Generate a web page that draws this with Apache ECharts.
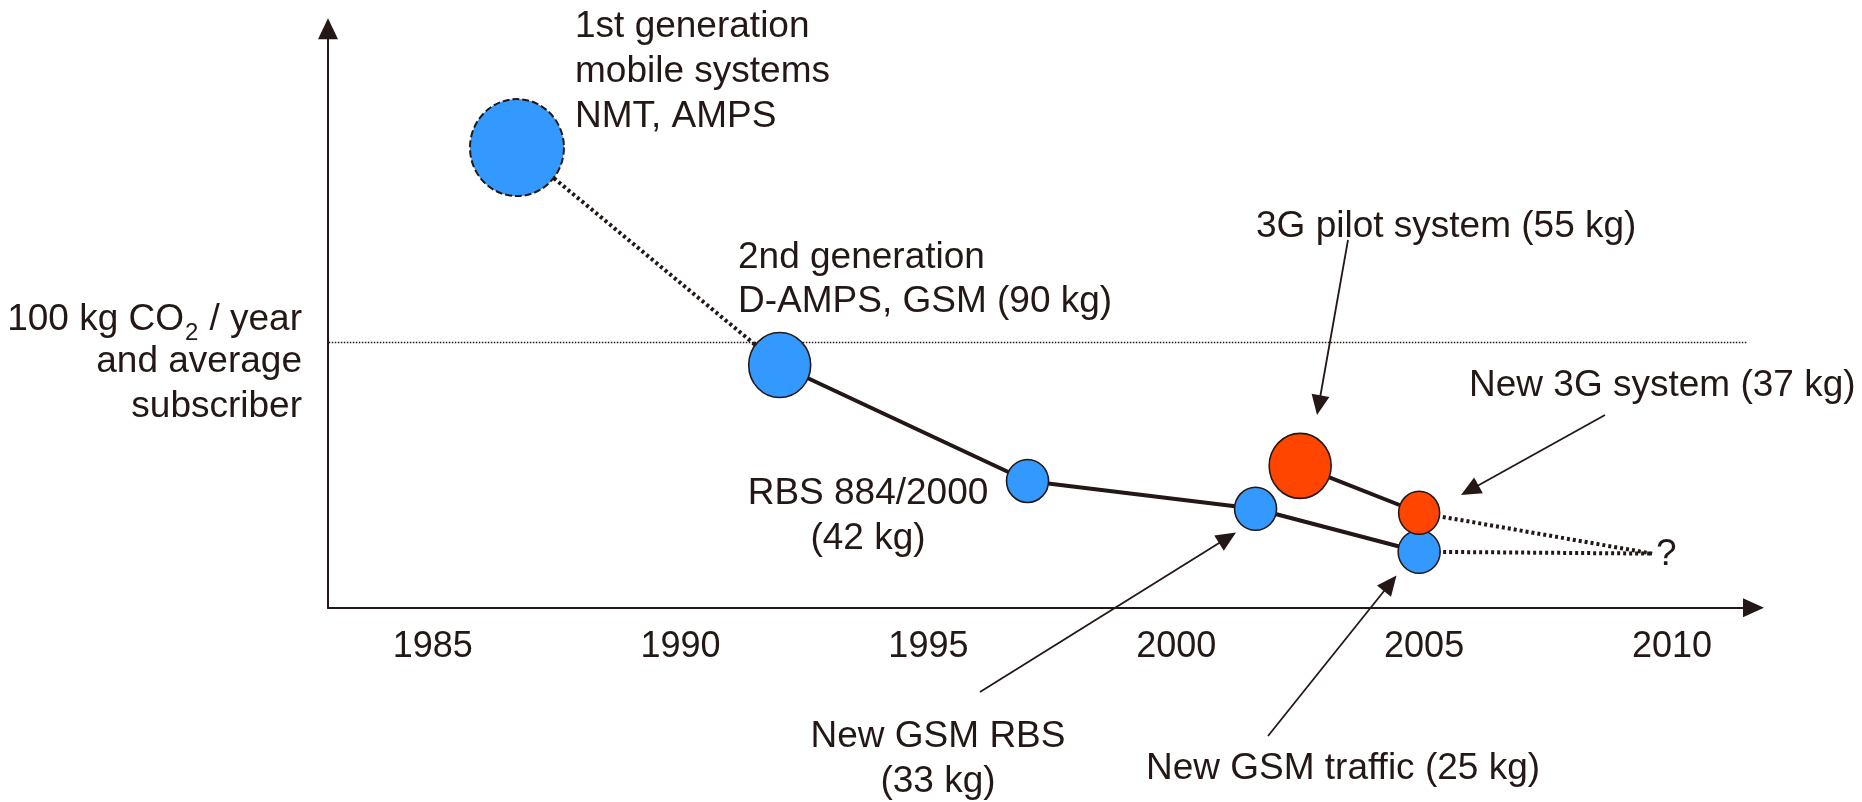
<!DOCTYPE html>
<html>
<head>
<meta charset="utf-8">
<title>CO2 per subscriber and year</title>
<script src="https://cdn.jsdelivr.net/npm/echarts@6/dist/echarts.min.js"></script>
<style>
    html, body { margin: 0; padding: 0; background: #fff; }
    #chart { width: 1862px; height: 802px; }
</style>
</head>
<body>
<div id="chart"></div>
<script>
    // x axis labels
    var yearTicks = [1985, 1990, 1995, 2000, 2005, 2010];

    // GSM / earlier systems (blue)
    var gsmNames = ['1st generation', '2nd generation', 'RBS 884/2000', 'New GSM RBS', 'New GSM traffic'];
    var gsmYear  = [1986.7, 1992.0, 1997.0, 2001.6, 2004.9];
    var gsmKg    = [173.5, 91.5, 47.8, 37.3, 21.1];

    // 3G systems (red)
    var g3Names = ['3G pilot system', 'New 3G system'];
    var g3Year  = [2002.5, 2004.9];
    var g3Kg    = [53.5, 35.8];

    // the "?" outlook point
    var futureYear = [2009.6];
    var futureKg   = [20.4];

    // reference level, kg CO2 / year and subscriber
    var refKg = [100];

    var ink  = '#231815';
    var blue = '#3399ff';
    var red  = '#ff4500';
    var FONT = '"Liberation Sans", Arial, Helvetica, sans-serif';

    // horizontal extent of the dotted reference line (runs a bit left of the y axis)
    var refSpan = [1982.42, 2011.53];

    function pts(xs, ys) {
        return xs.map(function (x, i) {
            return [x, ys[i]];
        });
    }

    var gsmPts   = pts(gsmYear, gsmKg);
    var g3Pts    = pts(g3Year, g3Kg);
    var futurePt = [futureYear[0], futureKg[0]];

    // marker sizes [w, h]
    var gsmSize = [[94, 97], [62, 65], [42, 43], [42, 43], [42, 43]];
    var g3Size  = [[62, 65], [41, 43]];

    var dotted = {color: ink, width: 4, type: [3, 3], cap: 'butt'};
    var solid  = {color: ink, width: 4};

    function label(x, y, text, align, size, lh) {
        return {
            type  : 'text',
            x     : x,
            y     : y,
            silent: true,
            style : {
                text             : text,
                fill             : ink,
                fontSize         : size,
                fontFamily       : FONT,
                align            : align,
                textAlign        : align,
                verticalAlign    : 'middle',
                textVerticalAlign: 'middle',
                lineHeight       : lh || size * 1.2
            }
        };
    }

    function arrow(x1, y1, x2, y2) {
        var dx = x2 - x1, dy = y2 - y1;
        var len = Math.sqrt(dx * dx + dy * dy);
        var ux = dx / len, uy = dy / len;
        var hl = 20, hw = 9;
        var bx = x2 - ux * hl, by = y2 - uy * hl;
        return [
            {
                type  : 'line',
                silent: true,
                shape : {x1: x1, y1: y1, x2: bx + ux * 2, y2: by + uy * 2},
                style : {stroke: ink, lineWidth: 1.8}
            },
            {
                type  : 'polygon',
                silent: true,
                shape : {points: [[x2, y2], [bx - uy * hw, by + ux * hw], [bx + uy * hw, by - ux * hw]]},
                style : {fill: ink}
            }
        ];
    }

    var graphics = [
        label(575, 71.5, '1st generation\nmobile systems\nNMT, AMPS', 'left', 37, 45),
        label(738, 279.7, '2nd generation\nD-AMPS, GSM (90 kg)', 'left', 37, 44.5),
        label(1256, 227, '3G pilot system (55 kg)', 'left', 37),
        label(1469, 386, 'New 3G system (37 kg)', 'left', 37),
        label(868, 516.5, 'RBS 884/2000\n(42 kg)', 'center', 37, 45),
        label(938, 759, 'New GSM RBS\n(33 kg)', 'center', 37, 45),
        label(1343, 769, 'New GSM traffic (25 kg)', 'center', 37),
        label(1656, 554.5, '?', 'left', 37),
        label(184, 320, '100 kg CO', 'right', 37),
        label(185, 333, '2', 'left', 24),
        label(302, 320, '/ year', 'right', 37),
        label(302, 384.5, 'and average\nsubscriber', 'right', 37, 44.5)
    ]
        .concat(arrow(1348, 240, 1317, 415))
        .concat(arrow(1605, 415, 1461, 495))
        .concat(arrow(980, 692, 1236, 532.5))
        .concat(arrow(1268, 736, 1396.5, 575.5));

    var myChart = echarts.init(document.getElementById('chart'));

    var option = {
        animation: false,
        grid     : {
            left           : 328,
            right          : 108.5,
            top            : 28.8,
            bottom         : 194.3,
            containLabel   : false,
            outerBoundsMode: 'none'
        },
        xAxis    : {
            type     : 'value',
            min      : 1982.888,
            max      : 2011.645,
            axisLine : {
                show      : true,
                onZero    : false,
                symbol    : ['none', 'triangle'],
                symbolSize: [19, 21],
                lineStyle : {color: ink, width: 2}
            },
            axisTick : {show: false},
            splitLine: {show: false},
            axisLabel: {
                customValues: yearTicks,
                formatter   : function (v) {
                    return String(v);
                },
                color       : ink,
                fontSize    : 36,
                fontFamily  : FONT,
                margin      : 21
            }
        },
        yAxis    : {
            type     : 'value',
            min      : 0,
            max      : 218.3,
            axisLine : {
                show      : true,
                onZero    : false,
                symbol    : ['none', 'triangle'],
                symbolSize: [20, 21],
                lineStyle : {color: ink, width: 2}
            },
            axisTick : {show: false},
            splitLine: {show: false},
            axisLabel: {show: false}
        },
        graphic  : graphics,
        series   : [
            {
                name     : '100 kg reference',
                type     : 'line',
                silent   : true,
                clip     : false,
                z        : 1,
                symbol   : 'none',
                data     : [[refSpan[0], refKg[0]], [refSpan[1], refKg[0]]],
                lineStyle: {color: ink, width: 1.5, type: [1.5, 1.5], cap: 'butt'}
            },
            {
                name     : '1G to 2G',
                type     : 'line',
                silent   : true,
                z        : 2,
                symbol   : 'none',
                data     : gsmPts.slice(0, 2),
                lineStyle: dotted
            },
            {
                name     : 'GSM',
                type     : 'line',
                silent   : true,
                z        : 2,
                symbol   : 'none',
                data     : gsmPts.slice(1),
                lineStyle: solid
            },
            {
                name     : '3G',
                type     : 'line',
                silent   : true,
                z        : 2,
                symbol   : 'none',
                data     : g3Pts,
                lineStyle: solid
            },
            {
                name     : 'GSM outlook',
                type     : 'line',
                silent   : true,
                z        : 2,
                symbol   : 'none',
                data     : [gsmPts[gsmPts.length - 1], futurePt],
                lineStyle: dotted
            },
            {
                name     : '3G outlook',
                type     : 'line',
                silent   : true,
                z        : 2,
                symbol   : 'none',
                data     : [g3Pts[g3Pts.length - 1], futurePt],
                lineStyle: dotted
            },
            {
                name      : 'GSM systems',
                type      : 'scatter',
                silent    : true,
                z         : 5,
                symbol    : 'circle',
                symbolSize: function (val, params) {
                    return gsmSize[params.dataIndex];
                },
                itemStyle : {color: blue, borderColor: ink, borderWidth: 1.6, opacity: 1},
                data      : gsmPts.map(function (p, i) {
                    var item = {name: gsmNames[i], value: p};
                    if (i === 0) {
                        item.itemStyle = {borderType: [7, 3], borderWidth: 2};
                    }
                    return item;
                })
            },
            {
                name      : '3G systems',
                type      : 'scatter',
                silent    : true,
                z         : 6,
                symbol    : 'circle',
                symbolSize: function (val, params) {
                    return g3Size[params.dataIndex];
                },
                itemStyle : {color: red, borderColor: ink, borderWidth: 1.6, opacity: 1},
                data      : g3Pts.map(function (p, i) {
                    return {name: g3Names[i], value: p};
                })
            }
        ]
    };

    myChart.setOption(option);
</script>
</body>
</html>
